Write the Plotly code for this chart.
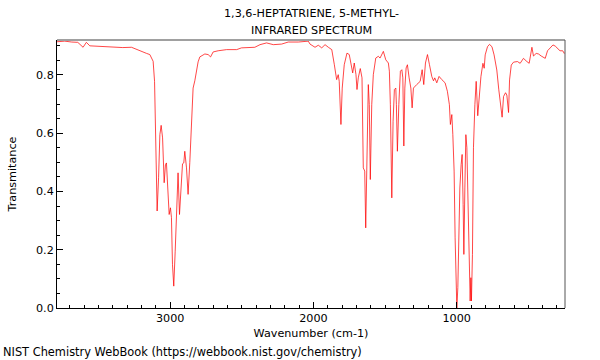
import plotly.graph_objects as go

wavenumber = [3790, 3736, 3687, 3645, 3608, 3585, 3561, 3492, 3401, 3331, 3270, 3212, 3165, 3142, 3119, 3109, 3102,
              3091, 3081, 3072, 3063, 3053, 3042, 3033, 3026, 3016, 3007, 2998, 2991, 2984, 2975, 2965, 2956,
              2945, 2935, 2924, 2914, 2905, 2898, 2886, 2875, 2863, 2854, 2840, 2828, 2805, 2793, 2758, 2735,
              2718, 2700, 2665, 2606, 2536, 2502, 2409, 2373, 2327, 2280, 2222, 2176, 2106, 2036, 2024, 1989,
              1966, 1942, 1919, 1896, 1872, 1854, 1838, 1827, 1820, 1808, 1799, 1785, 1766, 1750, 1733, 1726,
              1715, 1703, 1696, 1687, 1673, 1661, 1652, 1647, 1642, 1635, 1626, 1617, 1610, 1603, 1593, 1582,
              1565, 1547, 1535, 1512, 1495, 1477, 1470, 1463, 1453, 1444, 1435, 1425, 1421, 1414, 1404, 1393,
              1383, 1376, 1369, 1362, 1353, 1344, 1332, 1320, 1311, 1302, 1279, 1255, 1241, 1230, 1218, 1204,
              1190, 1174, 1162, 1153, 1139, 1123, 1104, 1081, 1065, 1051, 1044, 1034, 1027, 1018, 1011, 1004,
              999, 992, 985, 978, 969, 962, 955, 950, 943, 936, 929, 922, 913, 906, 901, 897, 890, 883, 873,
              864, 853, 843, 831, 817, 808, 801, 785, 771, 754, 739, 720, 706, 694, 683, 673, 659, 650, 638,
              631, 619, 603, 576, 557, 534, 510, 494, 475, 464, 445, 429, 410, 394, 382, 366, 349, 328, 312,
              296, 279, 260, 249, 244]
transmittance = [0.914, 0.916, 0.913, 0.912, 0.895, 0.912, 0.900, 0.898, 0.895, 0.894, 0.895, 0.882, 0.874, 0.870,
                 0.847, 0.778, 0.584, 0.333, 0.447, 0.595, 0.627, 0.584, 0.430, 0.492, 0.498, 0.378, 0.321,
                 0.344, 0.310, 0.150, 0.075, 0.195, 0.355, 0.464, 0.321, 0.435, 0.495, 0.498, 0.538, 0.481,
                 0.390, 0.500, 0.620, 0.755, 0.780, 0.845, 0.862, 0.872, 0.870, 0.862, 0.879, 0.883, 0.887,
                 0.887, 0.893, 0.895, 0.904, 0.910, 0.904, 0.906, 0.913, 0.913, 0.916, 0.906, 0.895, 0.902,
                 0.893, 0.904, 0.895, 0.887, 0.835, 0.784, 0.801, 0.778, 0.630, 0.755, 0.835, 0.875, 0.870,
                 0.824, 0.807, 0.841, 0.801, 0.750, 0.790, 0.822, 0.790, 0.481, 0.475, 0.470, 0.275, 0.584,
                 0.767, 0.698, 0.441, 0.698, 0.801, 0.858, 0.864, 0.858, 0.881, 0.852, 0.841, 0.813, 0.698,
                 0.378, 0.641, 0.750, 0.755, 0.698, 0.538, 0.698, 0.813, 0.818, 0.790, 0.556, 0.755, 0.824,
                 0.835, 0.790, 0.755, 0.687, 0.755, 0.767, 0.778, 0.818, 0.767, 0.841, 0.870, 0.835, 0.795,
                 0.780, 0.790, 0.773, 0.795, 0.784, 0.773, 0.744, 0.698, 0.630, 0.664, 0.595, 0.470, 0.241,
                 0.024, 0.000, 0.070, 0.264, 0.412, 0.492, 0.527, 0.355, 0.184, 0.412, 0.595, 0.550, 0.355,
                 0.127, 0.024, 0.104, 0.024, 0.184, 0.550, 0.698, 0.778, 0.660, 0.737, 0.794, 0.840, 0.823,
                 0.869, 0.897, 0.905, 0.897, 0.869, 0.817, 0.749, 0.703, 0.655, 0.726, 0.739, 0.731, 0.671,
                 0.783, 0.834, 0.844, 0.846, 0.840, 0.857, 0.846, 0.840, 0.895, 0.865, 0.874, 0.872, 0.865,
                 0.861, 0.857, 0.883, 0.891, 0.903, 0.899, 0.891, 0.883, 0.883, 0.874, 0.877]

x_ticks = [1000, 2000, 3000]
y_ticks = [0.0, 0.2, 0.4, 0.6, 0.8]
x_range = [3790, 244]
y_range = [0, 0.92]

FONT = "DejaVu Sans"
FS = 11.2

fig = go.Figure()
fig.add_trace(go.Scatter(x=wavenumber, y=transmittance, mode="lines",
                         line=dict(color="rgba(255,0,0,0.72)", width=1), hoverinfo="skip"))

fig.update_layout(
    width=600, height=360,
    margin=dict(l=57, r=35, t=40, b=52, autoexpand=False),
    paper_bgcolor="white", plot_bgcolor="white",
    showlegend=False,
    font=dict(family=FONT, size=FS, color="black"),
    xaxis=dict(range=x_range, tickvals=x_ticks, ticktext=[str(v) for v in x_ticks],
               ticks="inside", ticklen=6, tickcolor="black", tickwidth=1, automargin=False,
               showline=True, linecolor="black", linewidth=1, showgrid=False, zeroline=False,
               minor=dict(dtick=100, tick0=0, ticks="inside", ticklen=3, tickcolor="black", showgrid=False),
               title=dict(text="Wavenumber (cm-1)", font=dict(size=FS), standoff=4),
               tickfont=dict(size=FS)),
    yaxis=dict(range=y_range, tickvals=y_ticks, ticktext=["%.1f" % v for v in y_ticks],
               ticks="inside", ticklen=6, tickcolor="black", tickwidth=1, automargin=False,
               showline=True, linecolor="black", linewidth=1, showgrid=False, zeroline=False,
               minor=dict(dtick=0.05, tick0=0, ticks="inside", ticklen=3, tickcolor="black", showgrid=False),
               title=dict(text="Transmitance", font=dict(size=FS), standoff=17),
               tickfont=dict(size=FS)),
    shapes=[
        dict(type="line", xref="paper", yref="paper", x0=0, x1=1, y0=1, y1=1,
             line=dict(color="#a0a0a0", width=2)),
        dict(type="line", xref="paper", yref="paper", x0=1, x1=1, y0=0, y1=1,
             line=dict(color="#555555", width=1)),
    ],
    annotations=[
        dict(text="1,3,6-HEPTATRIENE, 5-METHYL-", xref="paper", yref="paper", x=0.5, y=1,
             yshift=27, showarrow=False, font=dict(size=FS, family=FONT), xanchor="center", yanchor="middle"),
        dict(text="INFRARED SPECTRUM", xref="paper", yref="paper", x=0.5, y=1,
             yshift=10, showarrow=False, font=dict(size=FS, family=FONT), xanchor="center", yanchor="middle"),
        dict(text="NIST Chemistry WebBook (https://webbook.nist.gov/chemistry)", xref="paper", yref="paper",
             x=0, y=0, xshift=-56, yshift=-44, showarrow=False, font=dict(size=11.4, family=FONT),
             xanchor="left", yanchor="middle"),
    ],
)

fig.write_html("out.html", config={"displayModeBar": False},
               post_script="document.body.style.margin='0';document.body.style.overflow='hidden';")
